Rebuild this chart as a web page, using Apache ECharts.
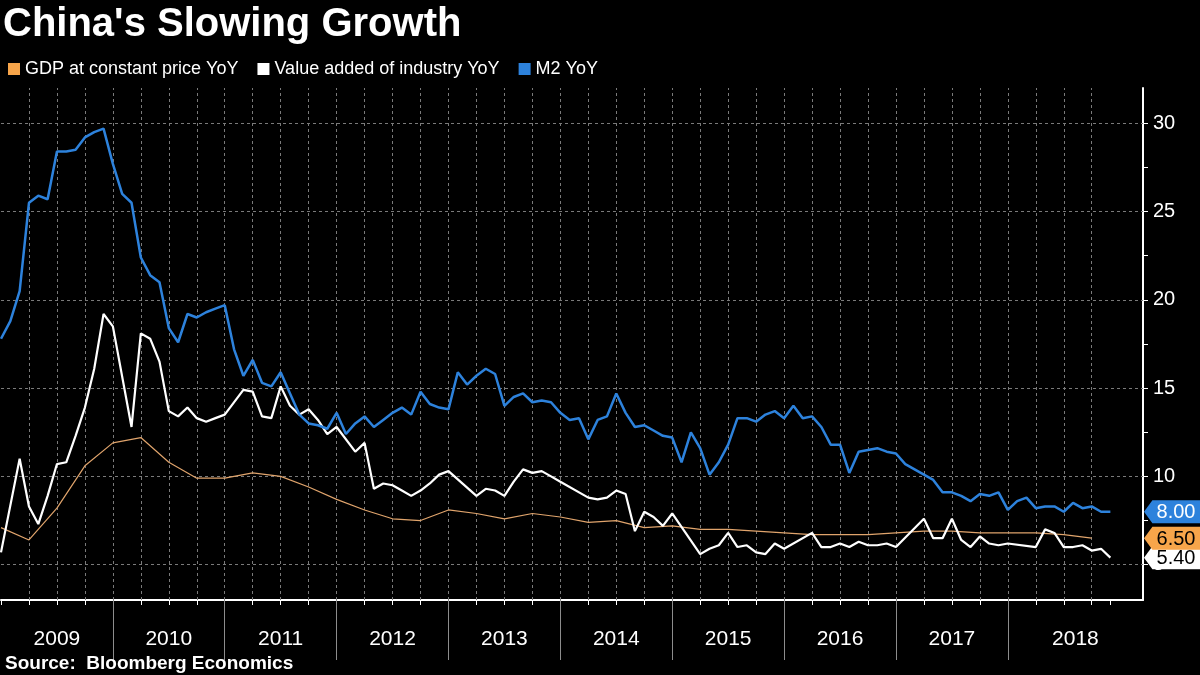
<!DOCTYPE html>
<html><head><meta charset="utf-8">
<script src="https://cdn.jsdelivr.net/npm/echarts@6/dist/echarts.min.js"></script>
<style>html,body{margin:0;padding:0;background:#000}#c{width:1200px;height:675px}</style>
</head><body><div id="c"></div>
<script>
// month index 0 = Dec 2008 (month-end), 119 = Nov 2018
const years = ['2009','2010','2011','2012','2013','2014','2015','2016','2017','2018'];
const seriesNames = ['GDP at constant price YoY', 'Value added of industry YoY', 'M2 YoY'];
const yTickLabels = [5, 10, 15, 20, 25, 30];

const m2 = [17.8,
 18.8, 20.5, 25.5, 25.9, 25.7, 28.4, 28.4, 28.5, 29.2, 29.5, 29.7, 27.7,
 26.0, 25.5, 22.4, 21.4, 21.0, 18.4, 17.6, 19.2, 19.0, 19.3, 19.5, 19.7,
 17.2, 15.7, 16.6, 15.3, 15.1, 15.9, 14.7, 13.5, 13.0, 12.9, 12.7, 13.6,
 12.4, 13.0, 13.4, 12.8, 13.2, 13.6, 13.9, 13.5, 14.8, 14.1, 13.9, 13.8,
 15.9, 15.2, 15.7, 16.1, 15.8, 14.0, 14.5, 14.7, 14.2, 14.3, 14.2, 13.6,
 13.2, 13.3, 12.1, 13.2, 13.4, 14.7, 13.6, 12.8, 12.9, 12.6, 12.3, 12.2,
 10.8, 12.5, 11.6, 10.1, 10.8, 11.8, 13.3, 13.3, 13.1, 13.5, 13.7, 13.3,
 14.0, 13.3, 13.4, 12.8, 11.8, 11.8, 10.2, 11.4, 11.5, 11.6, 11.4, 11.3,
 10.7, 10.4, 10.1, 9.8, 9.1, 9.1, 8.9, 8.6, 9.0, 8.9, 9.1, 8.1,
 8.6, 8.8, 8.2, 8.3, 8.3, 8.0, 8.5, 8.2, 8.3, 8.0, 8.0];

const industry = [5.7,
 null, 11.0, 8.3, 7.3, 8.9, 10.7, 10.8, 12.3, 13.9, 16.1, 19.2, 18.5,
 null, 12.8, 18.1, 17.8, 16.5, 13.7, 13.4, 13.9, 13.3, 13.1, 13.3, 13.5,
 null, 14.9, 14.8, 13.4, 13.3, 15.1, 14.0, 13.5, 13.8, 13.2, 12.4, 12.8,
 null, 11.4, 11.9, 9.3, 9.6, 9.5, 9.2, 8.9, 9.2, 9.6, 10.1, 10.3,
 null, null, 8.9, 9.3, 9.2, 8.9, 9.7, 10.4, 10.2, 10.3, 10.0, 9.7,
 null, null, 8.8, 8.7, 8.8, 9.2, 9.0, 6.9, 8.0, 7.7, 7.2, 7.9,
 null, null, 5.6, 5.9, 6.1, 6.8, 6.0, 6.1, 5.7, 5.6, 6.2, 5.9,
 null, null, 6.8, 6.0, 6.0, 6.2, 6.0, 6.3, 6.1, 6.1, 6.2, 6.0,
 null, null, 7.6, 6.5, 6.5, 7.6, 6.4, 6.0, 6.6, 6.2, 6.1, 6.2,
 null, null, 6.0, 7.0, 6.8, 6.0, 6.0, 6.1, 5.8, 5.9, 5.4];

// quarterly, Q4 2008 .. Q3 2018 (quarter-end months)
const gdp = [7.1,
 6.4, 8.2, 10.6, 11.9,
 12.2, 10.8, 9.9, 9.9,
 10.2, 10.0, 9.4, 8.7,
 8.1, 7.6, 7.5, 8.1,
 7.9, 7.6, 7.9, 7.7,
 7.4, 7.5, 7.1, 7.2,
 7.0, 7.0, 6.9, 6.8,
 6.7, 6.7, 6.7, 6.8,
 6.9, 6.9, 6.8, 6.8,
 6.8, 6.7, 6.5];

const X_MAX = 122.5;
const FONT = 'Liberation Sans';
const C_GDP = '#f7a54a', C_GDP_LINE = '#e0a46c', C_IND = '#ffffff', C_M2 = '#2d82dc';

const m2Data = m2.map((v, i) => [i, v]);
const indData = industry.map((v, i) => [i, v]).filter(d => d[1] !== null);
const gdpData = gdp.map((v, i) => [i * 3, v]);
const lastIdx = m2.length - 1;

const quarterTicks = [];
for (let k = 0; k <= lastIdx; k += 3) quarterTicks.push(k);
quarterTicks.push(lastIdx);
const yearSeps = years.slice(1).map((y, i) => (i + 1) * 12);
const yearLabelPos = years.map((y, i) => i < years.length - 1 ? i * 12 + 6 : (i * 12 + X_MAX) / 2);
const minorY = [];
for (let v = 5; v <= 30; v += 2.5) minorY.push(v);
const vGrid = [];
for (let k = 3; k <= 117; k += 3) vGrid.push({ xAxis: k });
const hGrid = yTickLabels.map(v => ({ yAxis: v }));

const tagPath = 'path://M0,12 L9,0 L60,0 L60,24 L9,24 Z';
function tag(value, bg, fg, z) {
  return {
    z: z, silent: true, animation: false,
    symbol: tagPath, symbolSize: [56, 23], symbolKeepAspect: false, symbolOffset: [29, 0],
    itemStyle: { color: bg },
    label: { show: true, position: 'inside', offset: [4, 1], color: fg, fontFamily: FONT, fontSize: 20,
      formatter: p => Number(p.value).toFixed(2) },
    data: [{ coord: [X_MAX, value], value: value }]
  };
}

const chart = echarts.init(document.getElementById('c'), null, { renderer: 'canvas' });
chart.setOption({
  backgroundColor: '#000',
  animation: false,
  title: [
    { text: "China's Slowing Growth", left: 3, top: 5, padding: 0,
      textStyle: { color: '#fff', fontFamily: FONT, fontWeight: 'bold', fontSize: 40, lineHeight: 40 } },
    { text: 'Source:  Bloomberg Economics', left: 5, top: 654, padding: 0,
      textStyle: { color: '#fff', fontFamily: FONT, fontWeight: 'bold', fontSize: 19, lineHeight: 19 } }
  ],
  legend: {
    left: 8, top: 60, padding: 0, icon: 'rect', itemWidth: 12, itemHeight: 12, itemGap: 19,
    data: seriesNames,
    textStyle: { color: '#fff', fontFamily: FONT, fontSize: 18 }
  },
  grid: { left: 1, right: 57, top: 88, bottom: 75, containLabel: false },
  xAxis: [
    { type: 'value', min: 0, max: X_MAX, interval: 3,
      axisLine: { show: true, onZero: false, lineStyle: { color: '#fff', width: 2 } },
      axisTick: { show: true, customValues: quarterTicks, length: 5, lineStyle: { color: '#fff', width: 1 } },
      axisLabel: { show: true, customValues: yearLabelPos, margin: 29, color: '#fff', fontFamily: FONT, fontSize: 21,
        formatter: v => years[Math.min(years.length - 1, Math.floor(v / 12))] },
      splitLine: { show: false } },
    { type: 'value', min: 0, max: X_MAX, interval: 3, position: 'bottom',
      axisLine: { show: false, onZero: false },
      axisTick: { show: true, customValues: yearSeps, length: 60, lineStyle: { color: '#8c8c8c', width: 1 } },
      axisLabel: { show: false }, splitLine: { show: false } }
  ],
  yAxis: {
    type: 'value', position: 'right', min: 3, max: 32, minInterval: 5, maxInterval: 5,
    axisLine: { show: true, onZero: false, lineStyle: { color: '#fff', width: 2 } },
    axisTick: { show: true, customValues: minorY, length: 5, lineStyle: { color: '#fff', width: 1 } },
    axisLabel: { show: true, customValues: yTickLabels,
      margin: 10, color: '#fff', fontFamily: FONT, fontSize: 20 },
    splitLine: { show: false }
  },
  series: [
    { name: 'grid', type: 'line', data: [], silent: true, z: 1,
      markLine: { silent: true, animation: false, symbol: ['none', 'none'], label: { show: false }, z: 1,
        lineStyle: { color: '#7a7a7a', type: [3, 3], width: 1 },
        data: vGrid.concat(hGrid) } },
    { name: seriesNames[0], type: 'line', data: gdpData, showSymbol: false, z: 2,
      itemStyle: { color: C_GDP }, lineStyle: { color: C_GDP_LINE, width: 1.2 },
      markPoint: tag(gdp[gdp.length - 1], C_GDP, '#000', 7) },
    { name: seriesNames[1], type: 'line', data: indData, showSymbol: false, z: 3,
      itemStyle: { color: C_IND }, lineStyle: { color: C_IND, width: 2.2 },
      markPoint: tag(industry[industry.length - 1], C_IND, '#000', 6) },
    { name: seriesNames[2], type: 'line', data: m2Data, showSymbol: false, z: 4,
      itemStyle: { color: C_M2 }, lineStyle: { color: C_M2, width: 2.5 },
      markPoint: tag(m2[m2.length - 1], C_M2, '#fff', 8) }
  ]
});
</script>
</body></html>
